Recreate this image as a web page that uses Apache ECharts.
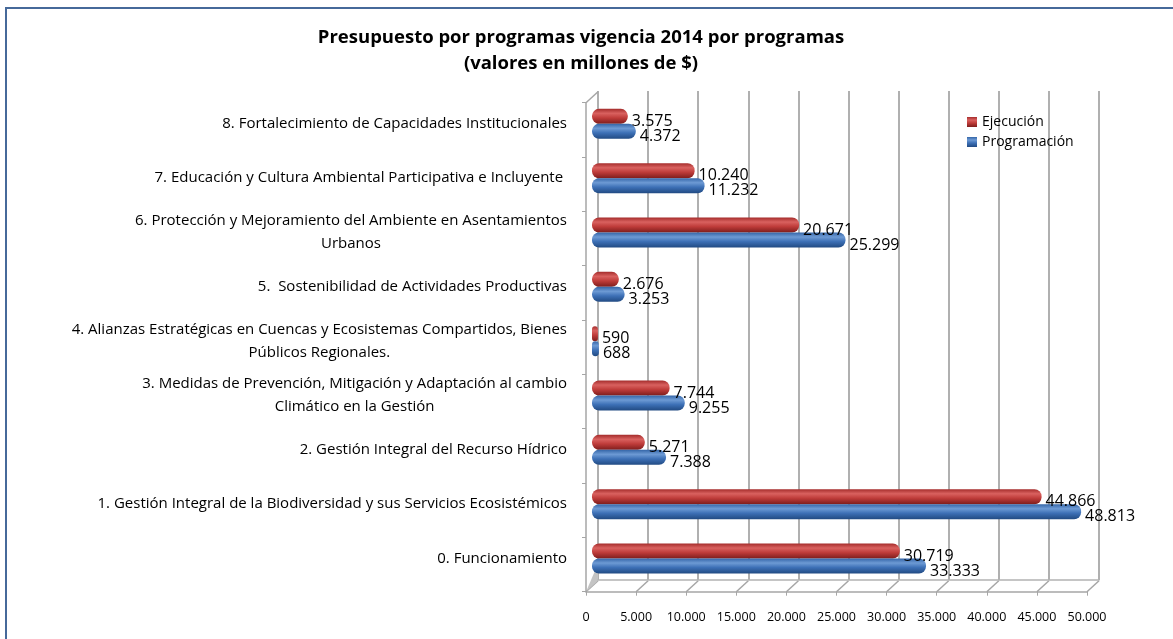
<!DOCTYPE html>
<html>
<head>
<meta charset="utf-8">
<script src="https://cdn.jsdelivr.net/npm/echarts@6/dist/echarts.min.js"></script>
<style>
  html, body { margin: 0; padding: 0; background: #fff; }
  #chart { width: 1173px; height: 639px; }
</style>
</head>
<body>
<div id="chart"></div>
<script>
// datos del grafico (de abajo hacia arriba)
var programas = [
  '0. Funcionamiento',
  '1. Gestión Integral de la Biodiversidad y sus Servicios Ecosistémicos',
  '2. Gestión Integral del Recurso Hídrico',
  '3. Medidas de Prevención, Mitigación y Adaptación al cambio\nClimático en la Gestión',
  '4. Alianzas Estratégicas en Cuencas y Ecosistemas Compartidos, Bienes\nPúblicos Regionales.',
  '5.  Sostenibilidad de Actividades Productivas',
  '6. Protección y Mejoramiento del Ambiente en Asentamientos\nUrbanos',
  '7. Educación y Cultura Ambiental Participativa e Incluyente ',
  '8. Fortalecimiento de Capacidades Institucionales'
];
var ejecucion    = [30719, 44866, 5271, 7744, 590, 2676, 20671, 10240, 3575];
var programacion = [33333, 48813, 7388, 9255, 688, 3253, 25299, 11232, 4372];
var ticksX = [0, 5000, 10000, 15000, 20000, 25000, 30000, 35000, 40000, 45000, 50000];

var FONT = '"Open Sans", "Noto Sans", sans-serif';

function miles(v) {
  return String(v).replace(/\B(?=(\d{3})+(?!\d))/g, '.');
}

function cilindro(c1, c2, c3, c4) {
  return new echarts.graphic.LinearGradient(0, 0, 0, 1, [
    { offset: 0, color: c1 },
    { offset: 0.3, color: c2 },
    { offset: 0.6, color: c3 },
    { offset: 1, color: c4 }
  ]);
}

var myChart = echarts.init(document.getElementById('chart'));

var etiqueta = {
  show: true, position: 'right', distance: 4, offset: [0, 5],
  fontSize: 16, fontFamily: FONT, color: '#000',
  formatter: function (p) { return miles(p.value); }
};

var option = {
  animation: false,
  textStyle: { fontFamily: FONT },
  graphic: [{
    type: 'rect',
    shape: { x: 6, y: 8, width: 1200, height: 700 },
    style: { fill: 'none', stroke: '#46699a', lineWidth: 2 },
    silent: true
  }],
  title: {
    text: 'Presupuesto por programas vigencia 2014 por programas\n(valores en millones de $)',
    left: 576,
    top: 20,
    textAlign: 'center',
    textStyle: { fontFamily: FONT, fontWeight: 'bold', fontSize: 18.5, lineHeight: 26, color: '#000' }
  },
  legend: {
    data: ['Ejecución', 'Programación'],
    orient: 'vertical',
    left: 962,
    top: 110,
    icon: 'rect',
    itemWidth: 10,
    itemHeight: 10,
    itemGap: 6,
    textStyle: { fontFamily: FONT, fontSize: 14, color: '#000' }
  },
  grid: [
    // plano frontal (ejes)
    { left: 586, right: 86, top: 102.7, bottom: 47.3 },
    // plano de las barras
    { left: 592, right: 80, top: 96.7, bottom: 53.3 },
    // pared del fondo
    { left: 598, right: 74, top: 91, bottom: 59 }
  ],
  xAxis: [
    {
      gridIndex: 0, type: 'value', min: 0, max: 50000, interval: 5000,
      axisLine: { show: true, lineStyle: { color: '#a6a6a6', width: 1.5 } },
      axisTick: { show: true, length: 4, lineStyle: { color: '#a6a6a6' } },
      axisLabel: { margin: 19, fontSize: 12.5, color: '#000', fontFamily: FONT, formatter: miles },
      splitLine: { show: false }
    },
    {
      gridIndex: 1, type: 'value', min: 0, max: 50000, interval: 5000, show: false
    },
    {
      gridIndex: 2, type: 'value', min: 0, max: 50000, interval: 5000,
      axisLine: { show: true, lineStyle: { color: '#b3b3b3', width: 1.5 } },
      axisTick: { show: false },
      axisLabel: { show: false },
      splitLine: { show: true, lineStyle: { color: '#b0b0b0', width: 2 } }
    }
  ],
  yAxis: [
    {
      gridIndex: 0, type: 'category', data: programas,
      axisLine: { show: true, lineStyle: { color: '#a6a6a6', width: 1.5 } },
      axisTick: { show: true, length: 4, lineStyle: { color: '#a6a6a6' } },
      axisLabel: { show: false }
    },
    {
      gridIndex: 1, type: 'category', data: programas,
      axisLine: { show: false },
      axisTick: { show: false },
      axisLabel: {
        margin: 25,
        color: '#000',
        fontSize: 15,
        fontFamily: FONT,
        formatter: function (v) {
          return v.split('\n').map(function (l) { return '{c|' + l + '}'; }).join('\n');
        },
        rich: { c: { align: 'center', fontSize: 15, fontFamily: FONT, color: '#000', lineHeight: 23 } }
      }
    },
    {
      gridIndex: 2, type: 'category', data: programas, show: false
    }
  ],
  series: [
    {
      // marco 3D (diagonales del piso)
      type: 'custom',
      xAxisIndex: 0, yAxisIndex: 0,
      silent: true,
      z: 0,
      data: ticksX.map(function (v) { return [v, 0]; }),
      encode: { x: 0, y: 1 },
      renderItem: function (params, api) {
        var x = api.coord([api.value(0), 0])[0];
        var cs = params.coordSys;
        var yb = cs.y + cs.height;
        var st = { stroke: '#a6a6a6', lineWidth: 1.5 };
        var ch = [{ type: 'line', shape: { x1: x, y1: yb, x2: x + 12, y2: yb - 11 }, style: st }];
        if (params.dataIndex === 0) {
          ch.push({ type: 'polygon', shape: { points: [[x, yb], [x + 12, yb - 11], [x + 12, yb - 28]] }, style: { fill: '#c4c4c4' } });
          ch.push({ type: 'line', shape: { x1: x, y1: cs.y, x2: x + 12, y2: cs.y - 11 }, style: st });
        }
        return { type: 'group', children: ch };
      }
    },
    {
      name: 'Ejecución',
      type: 'bar',
      xAxisIndex: 1, yAxisIndex: 1,
      data: ejecucion,
      barWidth: 15,
      barGap: '0%',
      itemStyle: {
        color: cilindro('#a52d2c', '#d9615f', '#bf3c3a', '#7e1d1c'),
        borderRadius: 7
      },
      label: etiqueta
    },
    {
      name: 'Programación',
      type: 'bar',
      xAxisIndex: 1, yAxisIndex: 1,
      data: programacion,
      barWidth: 15,
      barGap: '0%',
      itemStyle: {
        color: cilindro('#3566a8', '#6d9ad4', '#3d70b6', '#214a82'),
        borderRadius: 7
      },
      label: etiqueta
    }
  ]
};

myChart.setOption(option);
</script>
</body>
</html>
